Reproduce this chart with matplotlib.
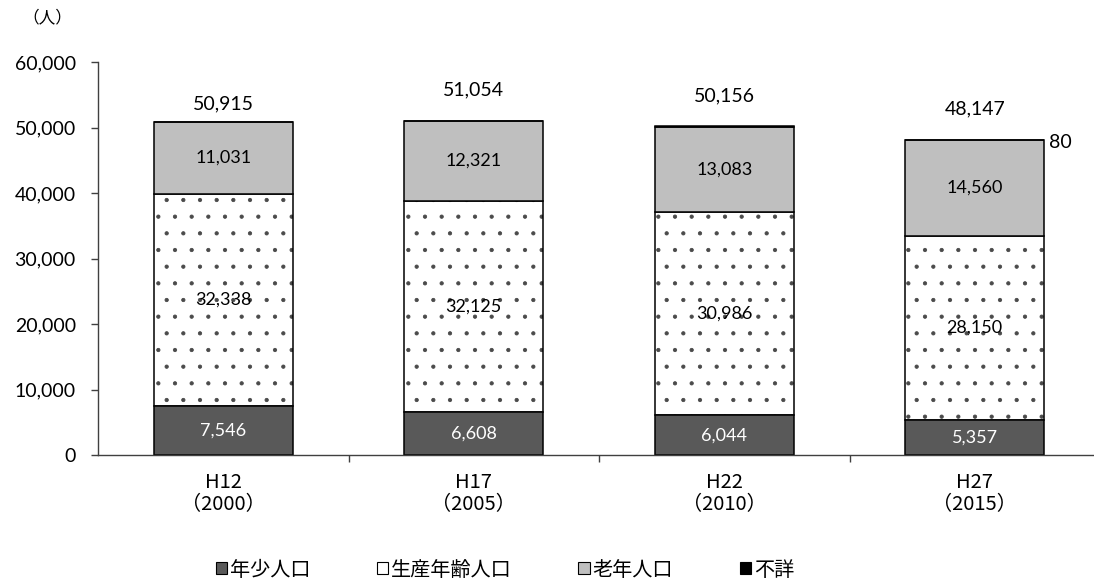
import numpy as np
import matplotlib
matplotlib.use("Agg")
import matplotlib.pyplot as plt
from matplotlib.patches import Patch

# Population by age group (persons)
categories = ["H12\n（2000）", "H17\n（2005）", "H22\n（2010）", "H27\n（2015）"]
young = [7546, 6608, 6044, 5357]          # 年少人口
working = [32338, 32125, 30986, 28150]    # 生産年齢人口
elderly = [11031, 12321, 13083, 14560]    # 老年人口
unknown = [0, 0, 43, 80]                  # 不詳
totals = [50915, 51054, 50156, 48147]

num_font = ["Lato", "Noto Sans CJK JP", "DejaVu Sans"]
jp_font = ["Noto Sans CJK JP", "DejaVu Sans"]

plt.rcParams["hatch.linewidth"] = 0.6
plt.rcParams["hatch.color"] = "#4a4a4a"

fig = plt.figure(figsize=(10.94, 5.80), dpi=100)
ax = fig.add_axes([98 / 1094, 125 / 580, 1002 / 1094, 393 / 580])

x = np.arange(len(categories))
w = 0.556
young = np.array(young)
working = np.array(working)
elderly = np.array(elderly)
unknown = np.array(unknown)

# hatched middle segment: dots drawn first, black outline on top
ax.bar(x, working, w, bottom=young, color="white", edgecolor="#4a4a4a",
       linewidth=0, hatch=".")
ax.bar(x, working, w, bottom=young, fill=False, edgecolor="black", linewidth=1.1)
ax.bar(x, young, w, color="#595959", edgecolor="black", linewidth=1.1)
ax.bar(x, elderly, w, bottom=young + working, color="#bfbfbf",
       edgecolor="black", linewidth=1.1)
ax.bar(x, unknown, w, bottom=young + working + elderly, color="black",
       edgecolor="black", linewidth=1.1)

# segment labels
for i in range(len(x)):
    ax.text(x[i], young[i] / 2, f"{young[i]:,}", ha="center", va="center",
            color="white", fontsize=13, family=num_font)
    ax.text(x[i], young[i] + working[i] / 2, f"{working[i]:,}", ha="center",
            va="center", color="black", fontsize=13, family=num_font)
    ax.text(x[i], young[i] + working[i] + elderly[i] / 2, f"{elderly[i]:,}",
            ha="center", va="center", color="black", fontsize=13, family=num_font)

# totals above bars
total_offsets = [12.6, 22, 22, 22]
for i in range(len(x)):
    ax.annotate(f"{totals[i]:,}", (x[i], totals[i]), xytext=(0, total_offsets[i]),
                textcoords="offset points", ha="center", va="center",
                fontsize=14, family=num_font)

# unknown count beside the last bar
ax.annotate(f"{unknown[3]:,}", (x[3] + w / 2, totals[3]), xytext=(3.6, -2.4),
            textcoords="offset points", ha="left", va="center",
            fontsize=14, family=num_font)

ax.set_ylim(0, 60000)
ax.set_xlim(-0.5, len(x) - 0.5)
ax.set_yticks(np.arange(0, 60001, 10000))
ax.set_yticklabels([f"{v:,}" for v in range(0, 60001, 10000)],
                   fontsize=14, family=num_font)
ax.set_xticks(x)
ax.set_xticklabels(categories, fontsize=14.5, family=jp_font, linespacing=1.1)
ax.set_xticks(x[:-1] + 0.5, minor=True)
ax.tick_params(axis="x", which="major", length=0, pad=12)
ax.tick_params(axis="x", which="minor", length=5, width=1, color="#404040",
               direction="out")
ax.tick_params(axis="y", length=5, width=1, color="#404040", pad=11,
               direction="out")

for s in ["top", "right"]:
    ax.spines[s].set_visible(False)
for s in ["left", "bottom"]:
    ax.spines[s].set_color("#404040")
    ax.spines[s].set_linewidth(1.0)

fig.text(22 / 1094, 1 - 18 / 580, "（人）", ha="left", va="center",
         fontsize=12, family=jp_font)

handles = [
    Patch(facecolor="#595959", edgecolor="black", linewidth=0.8),
    Patch(facecolor="white", edgecolor="black", linewidth=0.8),
    Patch(facecolor="#bfbfbf", edgecolor="black", linewidth=0.8),
    Patch(facecolor="black", edgecolor="black", linewidth=0.8),
]
labels = ["年少人口", "生産年齢人口", "老年人口", "不詳"]
fig.legend(handles, labels, loc="center", bbox_to_anchor=(505 / 1094, 10 / 580),
           ncol=4, frameon=False, prop={"family": jp_font, "size": 14.5},
           handlelength=0.55, handleheight=0.55, handletextpad=0.15,
           columnspacing=3.3, borderaxespad=0, borderpad=0)

fig.savefig("out.png", dpi=100)
